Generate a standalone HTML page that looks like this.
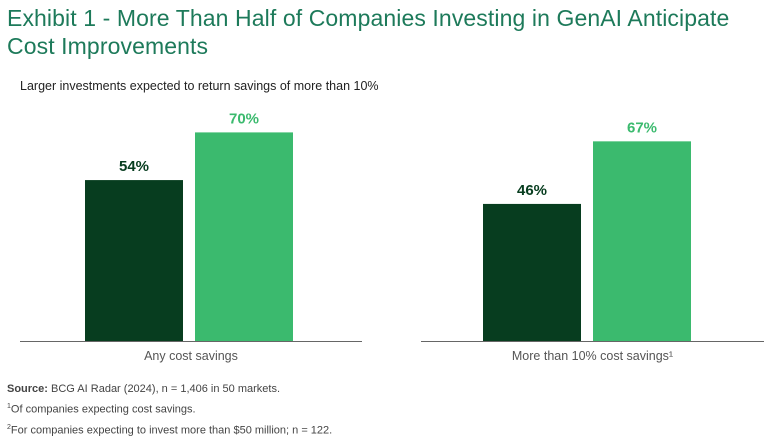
<!DOCTYPE html>
<html><head><meta charset="utf-8"><style>
body{margin:0;width:768px;height:448px;background:#fff;font-family:"Liberation Sans",sans-serif;overflow:hidden;position:relative}
.t{position:absolute;left:7px;top:4px;font-size:23px;line-height:28px;color:#1d7a5a;letter-spacing:0.1px}
.sub{position:absolute;left:20px;top:79px;font-size:12.5px;color:#222}
.f{position:absolute;left:7px;font-size:11px;color:#444}
</style></head><body>
<div class="t">Exhibit 1 - More Than Half of Companies Investing in GenAI Anticipate<br>Cost Improvements</div>
<div class="sub">Larger investments expected to return savings of more than 10%</div>
<svg id="c" width="768" height="448" style="position:absolute;left:0;top:0"></svg>
<div class="f" style="top:383px"><b>Source:</b> BCG AI Radar (2024), n = 1,406 in 50 markets.</div>
<div class="f" style="top:403px"><sup style="font-size:7px">1</sup>Of companies expecting cost savings.</div>
<div class="f" style="top:424px"><sup style="font-size:7px">2</sup>For companies expecting to invest more than $50 million; n = 122.</div>
<script>
const categories=["Any cost savings","More than 10% cost savings\u00b9"];
const seriesAll=[54,46];
const seriesLarge=[70,67];
const ns="http://www.w3.org/2000/svg";
const svg=document.getElementById('c');
const baseY=341, pxPer=2.98;
const y=v=>baseY-v*pxPer;
const groups=[{ax0:20,ax1:362,b0:85},{ax0:421,ax1:764,b0:483}];
const bw=98,gap=12;
function mk(t,a){const e=document.createElementNS(ns,t);for(const k in a)e.setAttribute(k,a[k]);svg.appendChild(e);return e;}
categories.forEach((c,i)=>{
  const g=groups[i];
  [[seriesAll[i],"#073d1f","#073d1f",0],[seriesLarge[i],"#3bba6e","#3bba6e",1]].forEach(([v,fill,tc,j])=>{
    const x=g.b0+j*(bw+gap);
    const r=mk('rect',{x:x,y:y(v),width:bw,height:baseY-y(v),fill:fill});
    
    
    const t=mk('text',{x:x+bw/2,y:y(v)-9,'text-anchor':'middle','font-size':'15','font-weight':'bold',fill:tc});
    t.textContent=v+'%';
    
    
  });
  const l=mk('line',{x1:g.ax0,x2:g.ax1,y1:baseY+0.5,y2:baseY+0.5,stroke:'#666','stroke-width':1});
  
  
  const ct=mk('text',{x:(g.ax0+g.ax1)/2,y:360,'text-anchor':'middle','font-size':'12.5',fill:'#555'});
  ct.textContent=c;
  
  
});
</script>
</body></html>
